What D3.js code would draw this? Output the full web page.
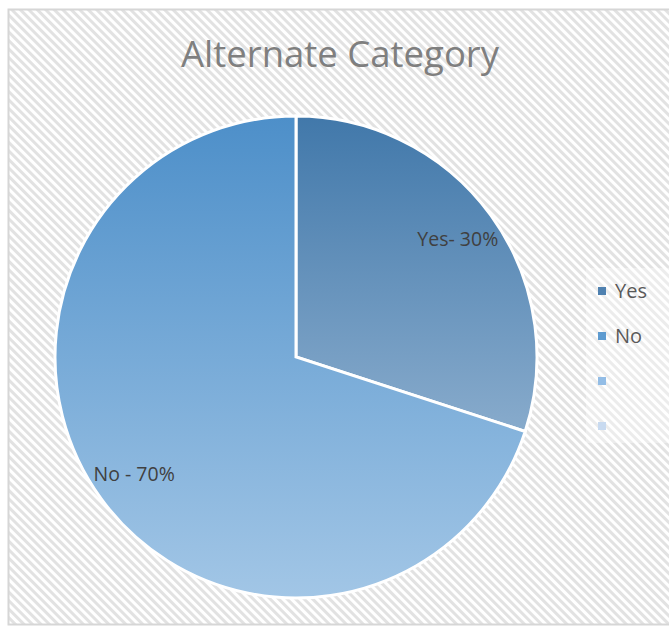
<!DOCTYPE html>
<html>
<head>
<meta charset="utf-8">
<script src="https://cdn.jsdelivr.net/npm/d3@7"></script>
<style>
  html, body { margin: 0; padding: 0; background: #ffffff; }
  svg { display: block; }
  text { font-family: "Open Sans", "Noto Sans", sans-serif; }
</style>
</head>
<body>
<svg id="chart" width="669" height="631"></svg>
<script>
// Chart data
const categories = ["Yes", "No"];
const values = [30, 70];
const sliceLabels = ["Yes- 30%", "No - 70%"];
const legendLabels = ["Yes", "No", "", ""];
const title = "Alternate Category";

const W = 669, H = 631;
const svg = d3.select("#chart");
const defs = svg.append("defs");

// Diagonal hatch background
const pat = defs.append("pattern")
  .attr("id", "hatch")
  .attr("patternUnits", "userSpaceOnUse")
  .attr("width", 6).attr("height", 6)
  .attr("patternTransform", "rotate(-45)");
pat.append("rect").attr("width", 6).attr("height", 6).attr("fill", "#ffffff");
pat.append("rect").attr("width", 3).attr("height", 6).attr("fill", "#e2e2e2");

svg.append("rect").attr("x", 0).attr("y", 0).attr("width", W).attr("height", H).attr("fill", "#ffffff");
svg.append("rect")
  .attr("x", 8.5).attr("y", 9.5).attr("width", W + 10).attr("height", 615)
  .attr("fill", "url(#hatch)")
  .attr("stroke", "#d6d6d6").attr("stroke-width", 2);

// Title
svg.append("text")
  .attr("x", 340).attr("y", 67)
  .attr("text-anchor", "middle")
  .attr("font-size", 36.5)
  .attr("fill", "#7f7f7f")
  .text(title);

// Pie
const cx = 296, cy = 357, r = 241;
const pie = d3.pie().sort(null).value(d => d);
const arcs = pie(values);
const arc = d3.arc().innerRadius(0).outerRadius(r);

// Vertical gradients per slice (coordinates relative to the pie centre)
const gradStops = [
  [["#4178aa", 0], ["#88abcc", 1]],
  [["#4d8fc9", 0], ["#a2c6e6", 1]]
];
const gradExtent = [[-r, 75], [-r, r]];
categories.forEach((c, i) => {
  const g = defs.append("linearGradient")
    .attr("id", "grad" + i)
    .attr("gradientUnits", "userSpaceOnUse")
    .attr("x1", 0).attr("x2", 0)
    .attr("y1", gradExtent[i][0]).attr("y2", gradExtent[i][1]);
  gradStops[i].forEach(s => g.append("stop").attr("offset", s[1]).attr("stop-color", s[0]));
});

const pg = svg.append("g").attr("transform", `translate(${cx},${cy})`);
pg.selectAll("path.slice")
  .data(arcs)
  .join("path")
  .attr("class", "slice")
  .attr("d", arc)
  .attr("fill", (d, i) => `url(#grad${i})`)
  .attr("stroke", "#ffffff")
  .attr("stroke-width", 3)
  .attr("stroke-linejoin", "miter");

// Slice labels
const labelArc = d3.arc().innerRadius(r * 0.83).outerRadius(r * 0.83);
pg.selectAll("text.lbl")
  .data(arcs)
  .join("text")
  .attr("class", "lbl")
  .attr("transform", d => {
    const [x, y] = labelArc.centroid(d);
    return `translate(${x},${y})`;
  })
  .attr("text-anchor", "middle")
  .attr("dy", "0.35em")
  .attr("font-size", 19.5)
  .attr("fill", "#404040")
  .text((d, i) => sliceLabels[i]);

// Legend
const legendColors = ["#4f81b0", "#5e9bd0", "#93bde6", "#c8daf0"];
const ly = d3.scalePoint().domain(d3.range(legendLabels.length)).range([291, 426]);
const lg = svg.append("g");
lg.append("rect")
  .attr("x", 586).attr("y", 268).attr("width", 90).attr("height", 175)
  .attr("fill", "#ffffff").attr("opacity", 0.35);
const items = lg.selectAll("g.item")
  .data(legendLabels)
  .join("g")
  .attr("class", "item")
  .attr("transform", (d, i) => `translate(598,${ly(i)})`);
items.append("rect")
  .attr("x", 0).attr("y", -4).attr("width", 8).attr("height", 8)
  .attr("fill", (d, i) => legendColors[i]);
items.append("text")
  .attr("x", 17).attr("y", 0)
  .attr("dy", "0.35em")
  .attr("font-size", 20)
  .attr("fill", "#595959")
  .text(d => d);
</script>
</body>
</html>
